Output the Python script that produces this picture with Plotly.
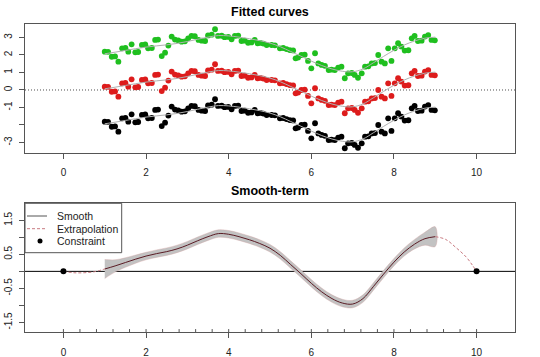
import plotly.graph_objects as go

# ---------------- data ----------------
pts_x = [1.00, 1.08, 1.17, 1.25, 1.33, 1.42, 1.50, 1.57, 1.65, 1.74,
         1.81, 1.90, 1.98, 2.05, 2.14, 2.22, 2.29, 2.38, 2.46, 2.54,
         2.62, 2.70, 2.78, 2.86, 2.94, 3.02, 3.10, 3.18, 3.27, 3.35,
         3.43, 3.50, 3.59, 3.67, 3.74, 3.83, 3.90, 3.99, 4.07, 4.15,
         4.23, 4.31, 4.39, 4.47, 4.55, 4.63, 4.70, 4.77, 4.84, 4.92,
         5.04, 5.12, 5.24, 5.32, 5.40, 5.48, 5.56, 5.62, 5.68, 5.76,
         5.84, 5.92, 6.00, 6.09, 6.17, 6.25, 6.33, 6.42, 6.49, 6.57,
         6.65, 6.73, 6.81, 6.89, 6.98, 7.05, 7.13, 7.22, 7.30, 7.38,
         7.46, 7.54, 7.62, 7.70, 7.78, 7.86, 7.94, 8.02, 8.10, 8.18,
         8.26, 8.35, 8.43, 8.50, 8.58, 8.67, 8.75, 8.83, 8.91, 8.99]

pts_black = [-1.81, -1.82, -2.10, -2.08, -2.38, -1.62, -1.60, -1.81, -1.39, -1.85,
             -1.83, -1.43, -1.40, -1.62, -1.60, -1.14, -1.12, -2.06, -1.87, -1.46,
             -0.95, -1.12, -1.16, -1.24, -1.22, -1.05, -0.91, -0.93, -1.14, -1.18,
             -1.20, -0.88, -0.84, -0.53, -0.91, -0.90, -0.98, -0.97, -1.10, -0.91,
             -0.89, -1.20, -1.18, -1.30, -1.28, -1.14, -1.33, -1.31, -1.35, -1.43,
             -1.43, -1.45, -1.62, -1.60, -1.66, -1.72, -1.74, -2.19, -2.15, -2.00,
             -1.98, -2.34, -2.76, -1.90, -2.48, -2.57, -2.62, -2.86, -2.84, -2.86,
             -2.72, -2.67, -3.33, -3.05, -3.03, -3.14, -3.30, -3.05, -2.67, -2.65,
             -2.48, -2.46, -2.00, -2.38, -2.48, -1.62, -2.34, -1.62, -1.33, -1.52,
             -1.75, -1.73, -1.05, -0.91, -1.20, -1.18, -0.95, -0.86, -1.14, -1.16]

pts_red = [0.19, 0.18, -0.10, -0.08, -0.38, 0.38, 0.40, 0.19, 0.61, 0.15,
           0.17, 0.57, 0.60, 0.38, 0.40, 0.86, 0.88, -0.06, 0.13, 0.54,
           1.05, 0.88, 0.84, 0.76, 0.78, 0.95, 1.09, 1.07, 0.86, 0.82,
           0.80, 1.12, 1.16, 1.47, 1.09, 1.10, 1.02, 1.03, 0.90, 1.09,
           1.11, 0.80, 0.82, 0.70, 0.72, 0.86, 0.67, 0.69, 0.65, 0.57,
           0.57, 0.55, 0.38, 0.40, 0.34, 0.28, 0.26, -0.19, -0.15, 0.00,
           0.02, -0.34, -0.76, 0.10, -0.48, -0.57, -0.62, -0.86, -0.84, -0.86,
           -0.72, -0.67, -1.33, -1.05, -1.03, -1.14, -1.30, -1.05, -0.67, -0.65,
           -0.48, -0.46, 0.00, -0.38, -0.48, 0.38, -0.34, 0.38, 0.67, 0.48,
           0.25, 0.27, 0.95, 1.09, 0.80, 0.82, 1.05, 1.14, 0.86, 0.84]

pts_green = [2.19, 2.18, 1.90, 1.92, 1.62, 2.38, 2.40, 2.19, 2.61, 2.15,
             2.17, 2.57, 2.60, 2.38, 2.40, 2.86, 2.88, 1.94, 2.13, 2.54,
             3.05, 2.88, 2.84, 2.76, 2.78, 2.95, 3.09, 3.07, 2.86, 2.82,
             2.80, 3.12, 3.16, 3.47, 3.09, 3.10, 3.02, 3.03, 2.90, 3.09,
             3.11, 2.80, 2.82, 2.70, 2.72, 2.86, 2.67, 2.69, 2.65, 2.57,
             2.57, 2.55, 2.38, 2.40, 2.34, 2.28, 2.26, 1.81, 1.85, 2.00,
             2.02, 1.66, 1.24, 2.10, 1.52, 1.43, 1.38, 1.14, 1.16, 1.14,
             1.28, 1.33, 0.67, 0.95, 0.97, 0.86, 0.70, 0.95, 1.33, 1.35,
             1.52, 1.54, 2.00, 1.62, 1.52, 2.38, 1.66, 2.38, 2.67, 2.48,
             2.25, 2.27, 2.95, 3.09, 2.80, 2.82, 3.05, 3.14, 2.86, 2.84]

fit_x = [1.00, 1.25, 1.50, 1.75, 2.00, 2.25, 2.50, 2.75, 3.00, 3.25, 3.50,
         3.75, 4.00, 4.25, 4.50, 4.75, 5.00, 5.25, 5.50, 5.75, 6.00, 6.25,
         6.50, 6.75, 7.00, 7.25, 7.50, 7.75, 8.00, 8.25, 8.50, 8.75, 9.00]

fit_black = [-1.93, -1.84, -1.74, -1.64, -1.55, -1.48, -1.42, -1.34, -1.23, -1.10, -0.98,
             -0.89, -0.91, -0.98, -1.07, -1.18, -1.32, -1.53, -1.80, -2.07, -2.35, -2.60,
             -2.80, -2.93, -2.96, -2.80, -2.45, -2.08, -1.73, -1.43, -1.20, -1.04, -0.98]
fit_red = [0.07, 0.16, 0.26, 0.36, 0.45, 0.52, 0.58, 0.66, 0.77, 0.90, 1.02,
           1.11, 1.09, 1.02, 0.93, 0.82, 0.68, 0.47, 0.20, -0.07, -0.35, -0.60,
           -0.80, -0.93, -0.96, -0.80, -0.45, -0.08, 0.27, 0.57, 0.80, 0.96, 1.02]
fit_green = [2.07, 2.16, 2.26, 2.36, 2.45, 2.52, 2.58, 2.66, 2.77, 2.90, 3.02,
             3.11, 3.09, 3.02, 2.93, 2.82, 2.68, 2.47, 2.20, 1.93, 1.65, 1.40,
             1.20, 1.07, 1.04, 1.20, 1.55, 1.92, 2.27, 2.57, 2.80, 2.96, 3.02]

smooth_y = [0.07, 0.16, 0.26, 0.36, 0.45, 0.52, 0.58, 0.66, 0.77, 0.90, 1.02,
            1.11, 1.09, 1.02, 0.93, 0.82, 0.68, 0.47, 0.20, -0.07, -0.35, -0.60,
            -0.80, -0.93, -0.96, -0.80, -0.45, -0.08, 0.27, 0.57, 0.80, 0.96, 1.02]
smooth_hi = [0.35, 0.34, 0.40, 0.48, 0.56, 0.63, 0.69, 0.77, 0.88, 1.01, 1.13,
             1.22, 1.20, 1.13, 1.04, 0.93, 0.79, 0.58, 0.31, 0.04, -0.24, -0.49,
             -0.69, -0.82, -0.85, -0.69, -0.34, 0.03, 0.38, 0.69, 0.94, 1.15, 1.31]
smooth_lo = [-0.21, -0.02, 0.12, 0.24, 0.34, 0.41, 0.47, 0.55, 0.66, 0.79, 0.91,
             1.00, 0.98, 0.91, 0.82, 0.71, 0.57, 0.36, 0.09, -0.18, -0.46, -0.71,
             -0.91, -1.04, -1.07, -0.91, -0.56, -0.19, 0.16, 0.45, 0.66, 0.77, 0.73]

extrap_left_x = [0.00, 0.25, 0.50, 0.75, 1.00]
extrap_left_y = [0.00, -0.04, -0.04, -0.01, 0.07]
extrap_right_x = [9.00, 9.25, 9.50, 9.75, 9.90, 10.00]
extrap_right_y = [1.02, 0.94, 0.70, 0.42, 0.18, 0.00]

constraint_x = [0, 10]
constraint_y = [0, 0]

rug_x = [0.0, 0.4, 0.8, 1.2, 1.6, 2.0, 2.4, 2.8, 3.2, 3.6, 4.0, 4.4, 4.8,
         5.2, 5.6, 6.0, 6.4, 6.8, 7.2, 7.6, 8.0, 8.4, 8.8, 9.2, 9.6, 10.0]

x_ticks = [0, 2, 4, 6, 8, 10]
top_y_ticks = [-3, -2, -1, 0, 1, 2, 3]
top_y_labels = ["-3", "", "-1", "0", "1", "2", "3"]
bot_y_ticks = [-1.5, -1.0, -0.5, 0.0, 0.5, 1.0, 1.5]
bot_y_labels = ["-1.5", "", "-0.5", "", "0.5", "", "1.5"]

legend_labels = ["Smooth", "Extrapolation", "Constraint"]

# ---------------- layout helpers ----------------
W, H = 540, 357
def px(x):
    return x / W
def py(y):
    return 1 - y / H

FONT = "Liberation Sans, Arial, sans-serif"
BLACK_PT = "#000000"
RED_PT = "#dd1c1c"
GREEN_PT = "#1fbf1f"

fig = go.Figure()

# top panel: points and fitted curves
for ys, col in [(pts_black, BLACK_PT), (pts_red, RED_PT), (pts_green, GREEN_PT)]:
    fig.add_trace(go.Scatter(x=pts_x, y=ys, mode="markers",
                             marker=dict(color=col, size=5.8, line=dict(width=0)),
                             xaxis="x", yaxis="y", showlegend=False, hoverinfo="skip"))
for ys in [fit_black, fit_red, fit_green]:
    fig.add_trace(go.Scatter(x=fit_x, y=ys, mode="lines",
                             line=dict(color="#b0b0b0", width=1, shape="spline"),
                             xaxis="x", yaxis="y", showlegend=False, hoverinfo="skip"))

# bottom panel: band, smooth, extrapolation, constraint
fig.add_trace(go.Scatter(x=fit_x + fit_x[::-1], y=smooth_hi + smooth_lo[::-1],
                         fill="toself", fillcolor="#c2c2c2",
                         line=dict(color="rgba(210,160,160,0.6)", width=0.6, shape="spline"),
                         mode="lines", xaxis="x2", yaxis="y2",
                         showlegend=False, hoverinfo="skip"))
fig.add_trace(go.Scatter(x=fit_x, y=smooth_y, mode="lines",
                         line=dict(color="#5a1b24", width=1, shape="spline"),
                         xaxis="x2", yaxis="y2", showlegend=False))
for ex, ey in [(extrap_left_x, extrap_left_y), (extrap_right_x, extrap_right_y)]:
    fig.add_trace(go.Scatter(x=ex, y=ey, mode="lines",
                             line=dict(color="#c87a80", width=1, dash="3px,2px", shape="spline"),
                             xaxis="x2", yaxis="y2", showlegend=False))
fig.add_trace(go.Scatter(x=constraint_x, y=constraint_y, mode="markers",
                         marker=dict(color="black", size=6),
                         xaxis="x2", yaxis="y2", showlegend=False))

axis_common = dict(showline=True, mirror=True, linecolor="#555555", linewidth=1,
                   ticks="outside", ticklen=5, tickcolor="#555555", showgrid=False,
                   zeroline=False, tickfont=dict(family=FONT, size=10, color="#222222"))

top_dom = [py(153), py(24)]
bot_dom = [py(332.3), py(203.3)]
x_dom = [px(25), px(515)]

fig.update_layout(
    width=W, height=H, margin=dict(l=0, r=0, t=0, b=0),
    paper_bgcolor="white", plot_bgcolor="white",
    xaxis=dict(domain=x_dom, anchor="y", range=[-0.93, 10.93], tickvals=x_ticks,
               ticklabelstandoff=5, **axis_common),
    yaxis=dict(domain=top_dom, anchor="x", range=[-3.6, 3.77], tickvals=top_y_ticks,
               ticktext=top_y_labels, tickangle=-90, ticklabelstandoff=3, **axis_common),
    xaxis2=dict(domain=x_dom, anchor="y2", range=[-0.93, 10.93], tickvals=x_ticks,
                ticklabelstandoff=6, **axis_common),
    yaxis2=dict(domain=bot_dom, anchor="x2", range=[-1.79, 2.0], tickvals=bot_y_ticks,
                ticktext=bot_y_labels, tickangle=-90, ticklabelstandoff=3, **axis_common),
    showlegend=False,
)

shapes = []
# reference lines
shapes.append(dict(type="line", xref="x domain", yref="y", x0=0, x1=1, y0=0, y1=0,
                   line=dict(color="#222222", width=0.8, dash="1px,2px"), layer="below"))
shapes.append(dict(type="line", xref="x2 domain", yref="y2", x0=0, x1=1, y0=0, y1=0,
                   line=dict(color="black", width=1), layer="below"))
# rug
for r in rug_x:
    shapes.append(dict(type="line", xref="x2", yref="y2 domain", x0=r, x1=r, y0=0, y1=0.025,
                       line=dict(color="#555555", width=1)))
# manual legend
shapes.append(dict(type="rect", xref="paper", yref="paper",
                   x0=px(25), x1=px(121.7), y0=py(252.7), y1=py(203.3),
                   line=dict(color="#555555", width=1), fillcolor="white"))
row_y = [216, 228.7, 241]
shapes.append(dict(type="line", xref="paper", yref="paper", x0=px(27), x1=px(47),
                   y0=py(row_y[0]), y1=py(row_y[0]), line=dict(color="#555555", width=1)))
shapes.append(dict(type="line", xref="paper", yref="paper", x0=px(27), x1=px(47),
                   y0=py(row_y[1]), y1=py(row_y[1]),
                   line=dict(color="#c87a80", width=1, dash="3px,2px")))
shapes.append(dict(type="circle", xref="paper", yref="paper", x0=px(37.5), x1=px(42.5),
                   y0=py(row_y[2] + 2.5), y1=py(row_y[2] - 2.5),
                   line=dict(color="black", width=0), fillcolor="black"))
fig.update_layout(shapes=shapes)

annotations = [
    dict(text="<b>Fitted curves</b>", x=px(270), y=py(12), xref="paper", yref="paper",
         showarrow=False, xanchor="center", yanchor="middle",
         font=dict(family=FONT, size=12.5, color="black")),
    dict(text="<b>Smooth-term</b>", x=px(270), y=py(191), xref="paper", yref="paper",
         showarrow=False, xanchor="center", yanchor="middle",
         font=dict(family=FONT, size=12.5, color="black")),
]
for lab, ry in zip(legend_labels, row_y):
    annotations.append(dict(text=lab, x=px(55), y=py(ry), xref="paper", yref="paper",
                            showarrow=False, xanchor="left", yanchor="middle",
                            font=dict(family=FONT, size=10.5, color="#222222")))
fig.update_layout(annotations=annotations)

fig.write_html("out.html", config={"displayModeBar": False},
               post_script="document.body.style.margin='0';document.body.style.padding='0';")
